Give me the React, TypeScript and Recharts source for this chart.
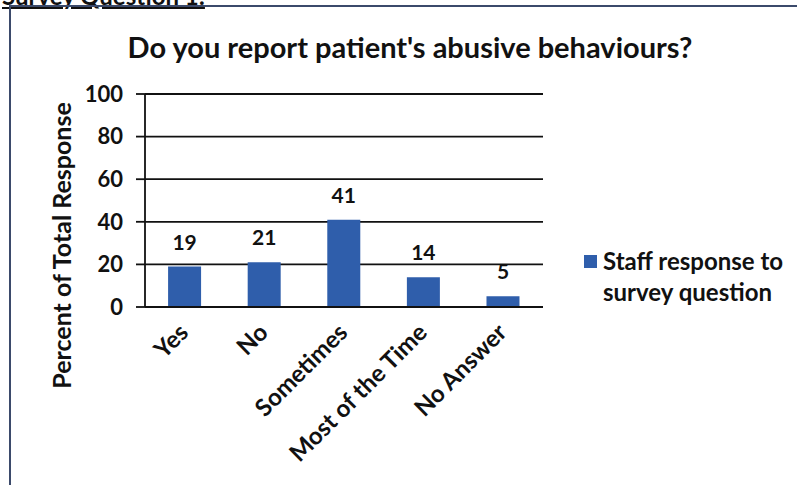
import { BarChart, Bar, XAxis, YAxis, CartesianGrid, LabelList } from 'recharts'

const categories = ['Yes', 'No', 'Sometimes', 'Most of the Time', 'No Answer']
const staffResponse = [19, 21, 41, 14, 5]
const yTicks = [0, 20, 40, 60, 80, 100]

const data = categories.map((name, i) => ({ name, value: staffResponse[i] }))

const FONT = 'Lato, "Open Sans", sans-serif'
const INK = '#111111'
const BLUE = '#2f5eab'

function CategoryTick(props: any) {
  const { x, y, payload } = props
  const ax = x + 5
  const ay = y + 19
  return (
    <text
      x={ax}
      y={ay}
      transform={`rotate(-45, ${ax}, ${ay})`}
      textAnchor="end"
      fontFamily={FONT}
      fontWeight={700}
      fontSize={24}
      fill={INK}
    >
      {payload.value}
    </text>
  )
}

export default function App() {
  return (
    <div style={{ position: 'absolute', left: 0, top: 0, width: 797, height: 485, background: '#fff', overflow: 'hidden' }}>
      <div
        style={{
          position: 'absolute',
          left: 2,
          top: -19,
          fontFamily: FONT,
          fontWeight: 700,
          fontSize: 24,
          color: INK,
          textDecoration: 'underline',
        }}
      >
        Survey Question 1:
      </div>
      <div
        style={{
          position: 'absolute',
          left: 9,
          top: 5,
          width: 800,
          height: 490,
          borderLeft: '2px solid #3b4a6b',
          borderTop: '2px solid #3b4a6b',
        }}
      />
      <div
        style={{
          position: 'absolute',
          left: 0,
          width: 820,
          top: 29,
          textAlign: 'center',
          fontFamily: FONT,
          fontWeight: 700,
          fontSize: 29,
          color: INK,
        }}
      >
        Do you report patient's abusive behaviours?
      </div>
      <BarChart
        width={797}
        height={485}
        data={data}
        margin={{ top: 94, right: 254, left: 65, bottom: 0 }}
        barCategoryGap="29%"
        style={{ position: 'absolute', left: 0, top: 0 }}
      >
        <CartesianGrid vertical={false} stroke={INK} strokeWidth={1.8} />
        <XAxis
          dataKey="name"
          axisLine={{ stroke: INK, strokeWidth: 1.8 }}
          tickLine={false}
          interval={0}
          tick={<CategoryTick />}
          height={178}
        />
        <YAxis
          domain={[0, 100]}
          ticks={yTicks}
          width={80}
          axisLine={{ stroke: INK, strokeWidth: 1.8 }}
          tickLine={{ stroke: INK, strokeWidth: 1.8 }}
          tickSize={9}
          tickMargin={13}
          tick={{ fill: INK, fontFamily: FONT, fontWeight: 700, fontSize: 22 }}
          label={{
            value: 'Percent of Total Response',
            angle: -90,
            position: 'insideLeft',
            dx: -8,
            dy: 45,
            fill: INK,
            fontFamily: FONT,
            fontWeight: 700,
            fontSize: 25,
            style: { textAnchor: 'middle' },
          }}
        />
        <Bar dataKey="value" fill={BLUE} isAnimationActive={false} name="Staff response to survey question">
          <LabelList
            dataKey="value"
            position="top"
            offset={17}
            fill={INK}
            fontFamily={FONT}
            fontWeight={700}
            fontSize={21}
          />
        </Bar>
      </BarChart>
      <div
        style={{
          position: 'absolute',
          left: 584,
          top: 245,
          display: 'flex',
          fontFamily: FONT,
          fontWeight: 700,
          fontSize: 24,
          color: INK,
          lineHeight: '31px',
          whiteSpace: 'nowrap',
        }}
      >
        <span style={{ display: 'inline-block', width: 13, height: 13, background: BLUE, marginTop: 10, marginRight: 6 }} />
        <span>
          Staff response to
          <br />
          survey question
        </span>
      </div>
    </div>
  )
}
